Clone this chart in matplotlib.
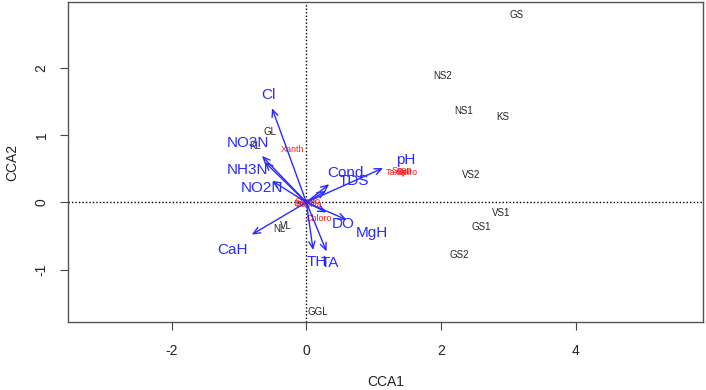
import matplotlib
matplotlib.use("Agg")
import matplotlib.pyplot as plt

plt.rcParams['font.family'] = ['Liberation Sans', 'DejaVu Sans']
plt.rcParams['axes.unicode_minus'] = False

# site scores
site_names = ["GS", "NS2", "NS1", "KS", "VS2", "VS1", "GS1", "GS2", "GGL", "GL", "KL", "NL", "VL"]
site_x = [3.12, 2.03, 2.34, 2.92, 2.44, 2.89, 2.60, 2.27, 0.17, -0.54, -0.76, -0.40, -0.30]
site_y = [2.78, 1.88, 1.36, 1.27, 0.41, -0.16, -0.37, -0.79, -1.63, 1.04, 0.84, -0.39, -0.35]

# species scores
spec_names = ["Xanth", "Taxon", "Syn", "Scen", "Spiro", "Bacilla", "Diato", "Chloro", "Cyano"]
spec_x = [-0.21, 1.36, 1.46, 1.42, 1.49, 0.04, -0.04, 0.18, 0.02]
spec_y = [0.78, 0.44, 0.46, 0.48, 0.44, -0.03, -0.02, -0.24, 0.01]

# environmental biplot arrows (tips) and label positions
env_names = ["Cl", "NO3N", "NH3N", "NO2N", "Cond", "TDS", "pH", "DO", "MgH", "TH", "TA", "CaH"]
env_x = [-0.51, -0.66, -0.62, -0.51, 0.34, 0.29, 1.14, 0.30, 0.60, 0.10, 0.30, -0.81]
env_y = [1.40, 0.69, 0.60, 0.32, 0.27, 0.17, 0.51, -0.15, -0.26, -0.71, -0.73, -0.48]
env_lab_x = [-0.56, -0.87, -0.87, -0.66, 0.58, 0.70, 1.47, 0.55, 0.97, 0.15, 0.35, -1.10]
env_lab_y = [1.59, 0.88, 0.48, 0.21, 0.43, 0.31, 0.63, -0.32, -0.46, -0.89, -0.90, -0.71]

fig = plt.figure(figsize=(7.06, 3.9), dpi=100)
ax = fig.add_axes([0.0963, 0.1744, 0.8994, 0.8205])

ax.axhline(0, color='black', ls=(0, (1, 1.5)), lw=1, zorder=1)
ax.axvline(0, color='black', ls=(0, (1, 1.5)), lw=1, zorder=1)

for n, x, y in zip(site_names, site_x, site_y):
    ax.text(x, y, n, fontsize=7, color='#222222', ha='center', va='center')

for n, x, y in zip(spec_names, spec_x, spec_y):
    ax.text(x, y, n, fontsize=6.5, color='#ff1a1a', ha='center', va='center')

for n, x, y, lx, ly in zip(env_names, env_x, env_y, env_lab_x, env_lab_y):
    ax.annotate('', xy=(x, y), xytext=(0, 0),
                arrowprops=dict(arrowstyle='->,head_length=0.5,head_width=0.22',
                                color='#2a2aff', lw=1.0, shrinkA=0, shrinkB=0))
    ax.text(lx, ly, n, fontsize=11, color='#2a2aff', ha='center', va='center')

ax.set_xlim(-3.54, 5.89)
ax.set_ylim(-1.78, 2.98)
ax.set_xticks([-2, 0, 2, 4])
ax.set_yticks([-1, 0, 1, 2])
ax.tick_params(direction='out', length=6, width=0.8, color='#444444',
               labelsize=10, labelcolor='#222222')
ax.tick_params(axis='x', pad=10)
ax.tick_params(axis='y', pad=8)
for lab in ax.get_yticklabels():
    lab.set_rotation(90)
    lab.set_va('center')
for s in ax.spines.values():
    s.set_color('#555555')
    s.set_linewidth(1.0)

ax.set_xlabel("CCA1", fontsize=10, color='#222222', labelpad=12)
ax.set_ylabel("CCA2", fontsize=10, color='#222222', labelpad=11)

fig.savefig("out.png", dpi=100)
